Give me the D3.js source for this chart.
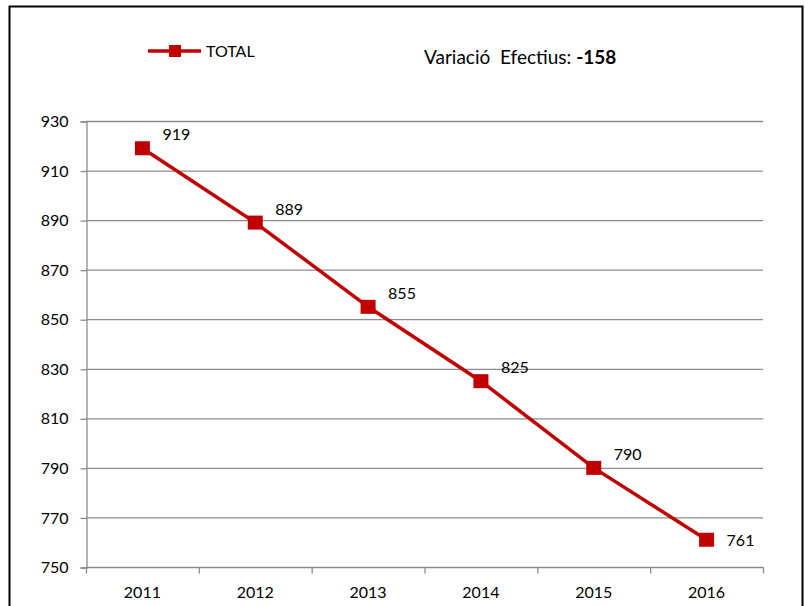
<!DOCTYPE html>
<html>
<head>
<meta charset="utf-8">
<script src="https://cdn.jsdelivr.net/npm/d3@7"></script>
<style>
  body { margin: 0; background: #fff; }
  svg { font-family: Lato, "Open Sans", sans-serif; }
</style>
</head>
<body>
<svg id="chart" width="805" height="606"></svg>
<script>
var years = ["2011", "2012", "2013", "2014", "2015", "2016"];
var totals = [919, 889, 855, 825, 790, 761];
var yTicks = [750, 770, 790, 810, 830, 850, 870, 890, 910, 930];

var svg = d3.select("#chart");
var red = "#c00000", grid = "#8c8c8c";

// outer frame (bottom edge falls outside the picture)
svg.append("rect")
  .attr("x", 9.5).attr("y", 6.5)
  .attr("width", 793).attr("height", 620)
  .attr("fill", "none").attr("stroke", "#000").attr("stroke-width", 2);

var plotL = 86, plotR = 763, plotT = 121, plotB = 567;

var x = d3.scaleBand().domain(years).range([plotL, plotR]);
var y = d3.scaleLinear().domain([750, 930]).range([plotB, plotT]);

// gridlines
svg.append("g").selectAll("line")
  .data(yTicks.slice(1))
  .enter().append("line")
    .attr("x1", plotL).attr("x2", plotR)
    .attr("y1", function(d) { return y(d) + 0.5; })
    .attr("y2", function(d) { return y(d) + 0.5; })
    .attr("stroke", grid).attr("stroke-width", 1.3);

// y axis
var yAxis = svg.append("g")
  .attr("transform", "translate(" + (plotL + 0.5) + ",0.5)")
  .call(d3.axisLeft(y).tickValues(yTicks).tickSize(6).tickPadding(12));
yAxis.select(".domain").attr("stroke", grid).attr("stroke-width", 1.3);
yAxis.selectAll(".tick line").attr("stroke", grid).attr("stroke-width", 1.3);
yAxis.selectAll("text").attr("font-size", 16).attr("fill", "#000")
  .attr("font-family", "Lato, sans-serif");

// x axis with ticks on band edges
var xAxisG = svg.append("g").attr("transform", "translate(0," + (plotB + 0.5) + ")");
xAxisG.append("line").attr("x1", plotL).attr("x2", plotR + 0.5)
  .attr("stroke", grid).attr("stroke-width", 1.3);
var edges = years.map(function(d) { return x(d); }).concat([plotR]);
xAxisG.selectAll(".edge").data(edges).enter().append("line")
  .attr("x1", function(d) { return d + 0.5; }).attr("x2", function(d) { return d + 0.5; })
  .attr("y1", 0).attr("y2", 6)
  .attr("stroke", grid).attr("stroke-width", 1.3);
xAxisG.selectAll("text").data(years).enter().append("text")
  .attr("x", function(d) { return x(d) + x.bandwidth() / 2; })
  .attr("y", 30)
  .attr("text-anchor", "middle")
  .attr("font-size", 16)
  .text(function(d) { return d; });

// line
var pts = years.map(function(d, i) { return { year: d, value: totals[i] }; });
var line = d3.line()
  .x(function(d) { return x(d.year) + x.bandwidth() / 2; })
  .y(function(d) { return y(d.value); });
svg.append("path").datum(pts)
  .attr("d", line)
  .attr("fill", "none").attr("stroke", red).attr("stroke-width", 3.5);

svg.selectAll(".mk").data(pts).enter().append("rect")
  .attr("x", function(d) { return x(d.year) + x.bandwidth() / 2 - 7.5; })
  .attr("y", function(d) { return y(d.value) - 7; })
  .attr("width", 15).attr("height", 14)
  .attr("fill", red);

// data labels
svg.selectAll(".lbl").data(pts).enter().append("text")
  .attr("x", function(d) { return x(d.year) + x.bandwidth() / 2 + 20; })
  .attr("y", function(d, i) { return i === pts.length - 1 ? y(d.value) + 6 : y(d.value) - 8; })
  .attr("font-size", 16)
  .text(function(d) { return d.value; });

// legend
var lg = svg.append("g");
lg.append("line").attr("x1", 148).attr("x2", 201).attr("y1", 51).attr("y2", 51)
  .attr("stroke", red).attr("stroke-width", 3.5);
lg.append("rect").attr("x", 169).attr("y", 45).attr("width", 12).attr("height", 12).attr("fill", red);
lg.append("text").attr("x", 206).attr("y", 57).attr("font-size", 16).text("TOTAL");

var ttl = svg.append("text").attr("x", 424).attr("y", 64).attr("font-size", 19);
ttl.append("tspan").attr("xml:space", "preserve").text("Variació  Efectius: ");
ttl.append("tspan").attr("font-weight", "bold").text("-158");
</script>
</body>
</html>
